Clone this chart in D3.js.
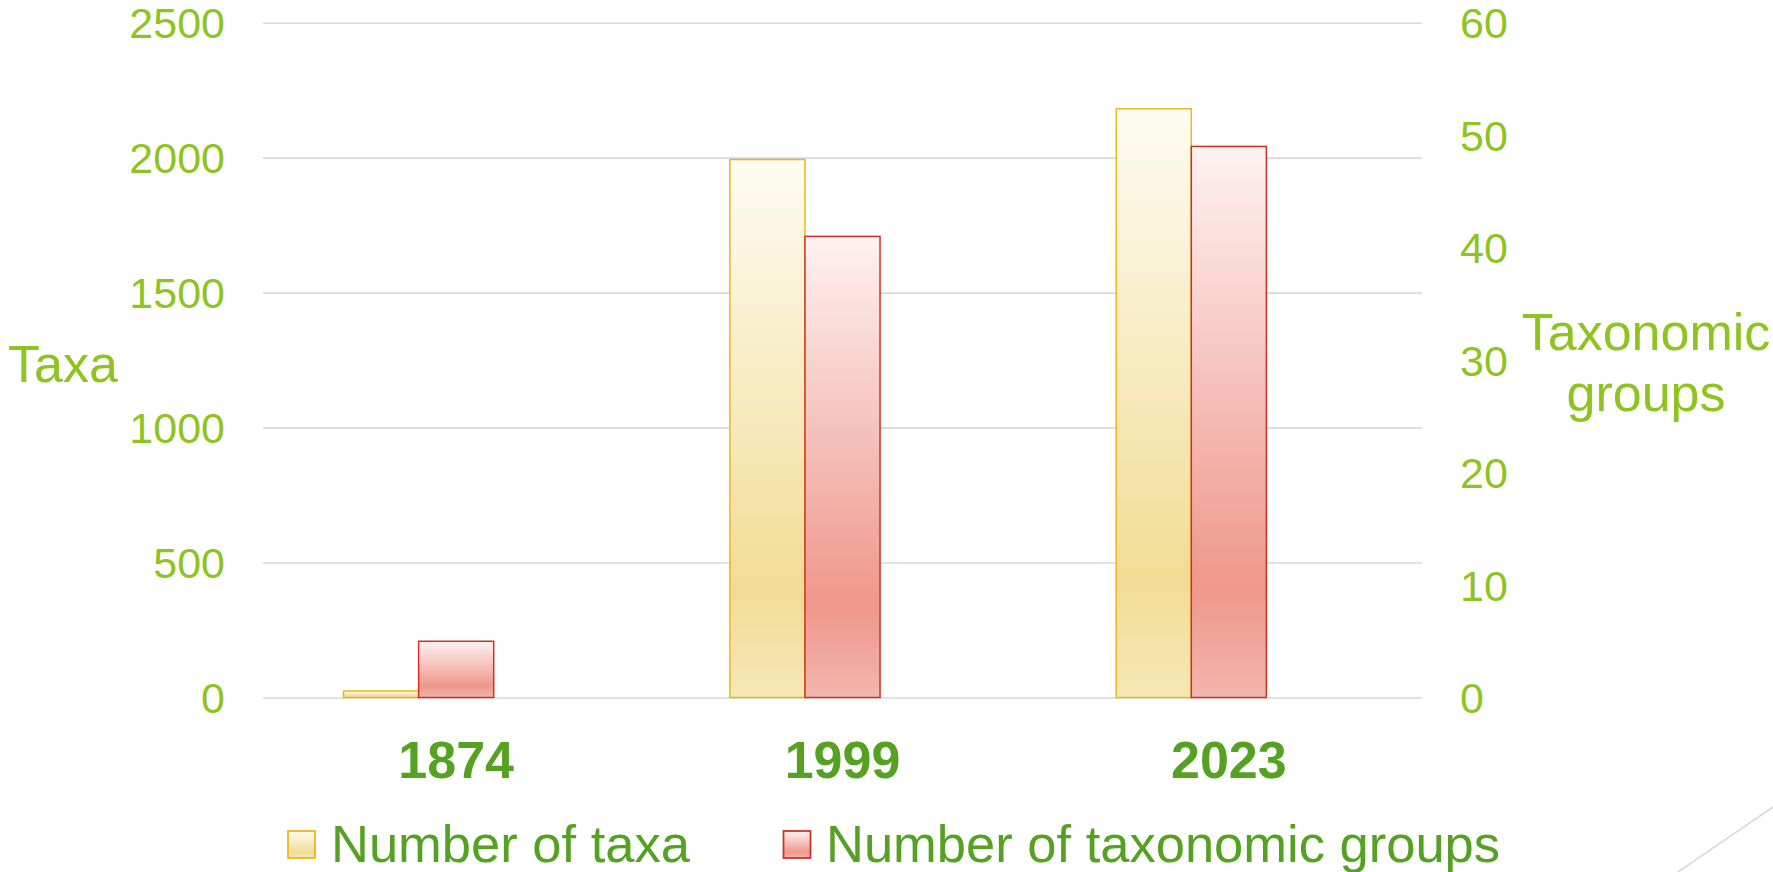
<!DOCTYPE html>
<html>
<head>
<meta charset="utf-8">
<script src="https://cdn.jsdelivr.net/npm/d3@7"></script>
<style>
  html, body { margin: 0; padding: 0; background: #fff; }
  svg { display: block; font-family: "Liberation Sans", Arial, sans-serif; }
</style>
</head>
<body>
<div id="chart"></div>
<script>
// Data
const years = ["1874", "1999", "2023"];
const taxaCounts = [24, 1993, 2181];
const groupCounts = [5, 41, 49];
const leftTicks = [0, 500, 1000, 1500, 2000, 2500];
const rightTicks = [0, 10, 20, 30, 40, 50, 60];
const seriesNames = ["Number of taxa", "Number of taxonomic groups"];

const width = 1773, height = 872;
const plotLeft = 263, plotRight = 1422, plotTop = 22.7, plotBottom = 697.5;

const lightGreen = "#8fc31f";
const darkGreen = "#55a122";
const gridColor = "#d9d9d9";

const svg = d3.select("#chart").append("svg")
  .attr("width", width)
  .attr("height", height);

// Gradients (per bar, relative to each bar's own box)
const defs = svg.append("defs");
const grads = [
  { id: "gradTaxa", stops: [["0%", "#fefcf3"], ["80%", "#f1dc95"], ["100%", "#f6e7b6"]] },
  { id: "gradGroups", stops: [["0%", "#fdf2f1"], ["80%", "#ef978b"], ["100%", "#f3b6ad"]] }
];
grads.forEach((gd) => {
  const lg = defs.append("linearGradient")
    .attr("id", gd.id)
    .attr("x1", 0).attr("y1", 0).attr("x2", 0).attr("y2", 1);
  gd.stops.forEach(([o, c]) => lg.append("stop").attr("offset", o).attr("stop-color", c));
});
const fills = ["url(#gradTaxa)", "url(#gradGroups)"];
const strokes = ["#e9b820", "#cc3326"];

// Scales
const x0 = d3.scaleBand()
  .domain(years)
  .range([plotLeft, plotRight])
  .paddingInner(0.417)
  .paddingOuter(0.2085);
// two series sit in the first two of three slots in each group
const x1 = d3.scaleBand()
  .domain([0, 1, 2])
  .range([0, x0.bandwidth()]);
const yL = d3.scaleLinear().domain([0, 2500]).range([plotBottom, plotTop]);
const yR = d3.scaleLinear().domain([0, 60]).range([plotBottom, plotTop]);

// Gridlines
svg.append("g")
  .attr("transform", `translate(${plotLeft},0)`)
  .call(d3.axisLeft(yL).tickValues(leftTicks).tickSize(-(plotRight - plotLeft)).tickFormat(""))
  .call((g) => g.select(".domain").remove())
  .call((g) => g.selectAll("line").attr("stroke", gridColor).attr("stroke-width", 1.6));

// Left axis labels
svg.append("g")
  .attr("transform", `translate(${plotLeft},0)`)
  .call(d3.axisLeft(yL).tickValues(leftTicks).tickFormat(d3.format("d")).tickSize(0).tickPadding(38))
  .call((g) => g.select(".domain").remove())
  .call((g) => g.selectAll("text")
    .attr("fill", lightGreen)
    .attr("font-size", 43)
    .attr("font-family", "'Liberation Sans', Arial, sans-serif")
    .attr("dy", "0.35em"));

// Right axis labels
svg.append("g")
  .attr("transform", `translate(${plotRight},0)`)
  .call(d3.axisRight(yR).tickValues(rightTicks).tickFormat(d3.format("d")).tickSize(0).tickPadding(38))
  .call((g) => g.select(".domain").remove())
  .call((g) => g.selectAll("text")
    .attr("fill", lightGreen)
    .attr("font-size", 43)
    .attr("font-family", "'Liberation Sans', Arial, sans-serif")
    .attr("dy", "0.35em"));

// Bars
const rows = years.map((yr, i) => ({ yr, vals: [taxaCounts[i], groupCounts[i]] }));
const scales = [yL, yR];
const groups = svg.append("g").selectAll("g")
  .data(rows)
  .join("g")
  .attr("transform", (d) => `translate(${x0(d.yr)},0)`);

groups.selectAll("rect")
  .data((d) => d.vals.map((v, k) => ({ v, k })))
  .join("rect")
  .attr("x", (d) => x1(d.k))
  .attr("width", x1.bandwidth())
  .attr("y", (d) => scales[d.k](d.v))
  .attr("height", (d) => plotBottom - scales[d.k](d.v))
  .attr("fill", (d) => fills[d.k])
  .attr("stroke", (d) => strokes[d.k])
  .attr("stroke-width", 1.5);

// X axis labels
svg.append("g")
  .attr("transform", `translate(0,${plotBottom})`)
  .call(d3.axisBottom(x0.copy().paddingInner(0).paddingOuter(0)).tickSize(0).tickPadding(44))
  .call((g) => g.select(".domain").remove())
  .call((g) => g.selectAll("text")
    .attr("fill", darkGreen)
    .attr("font-size", 52)
    .attr("font-weight", "bold")
    .attr("font-family", "'Liberation Sans', Arial, sans-serif"));

// Axis titles
svg.append("text")
  .attr("x", 8)
  .attr("y", 382)
  .attr("fill", lightGreen)
  .attr("font-size", 52)
  .text("Taxa");

const rt = svg.append("text")
  .attr("text-anchor", "middle")
  .attr("fill", lightGreen)
  .attr("font-size", 52);
rt.append("tspan").attr("x", 1646).attr("y", 350).text("Taxonomic");
rt.append("tspan").attr("x", 1646).attr("y", 411).text("groups");

// Legend
const legendPos = [{ sx: 288, tx: 331 }, { sx: 783.5, tx: 826 }];
const legend = svg.append("g").selectAll("g")
  .data(seriesNames)
  .join("g");
legend.append("rect")
  .attr("x", (d, i) => legendPos[i].sx)
  .attr("y", 831)
  .attr("width", 27)
  .attr("height", 27)
  .attr("fill", (d, i) => fills[i])
  .attr("stroke", (d, i) => strokes[i])
  .attr("stroke-width", 1.8);
legend.append("text")
  .attr("x", (d, i) => legendPos[i].tx)
  .attr("y", 861.5)
  .attr("fill", darkGreen)
  .attr("font-size", 52.5)
  .text((d) => d);

// Decorative diagonal at bottom right
svg.append("line")
  .attr("x1", 1678).attr("y1", 872)
  .attr("x2", 1773).attr("y2", 807)
  .attr("stroke", gridColor)
  .attr("stroke-width", 1.6);
</script>
</body>
</html>
